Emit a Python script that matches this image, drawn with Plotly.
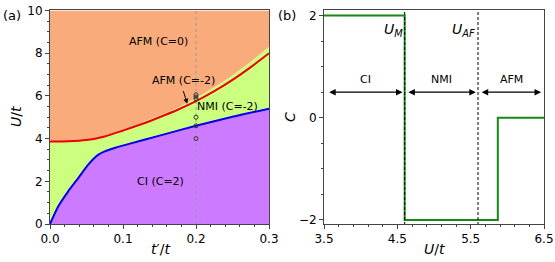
import plotly.graph_objects as go

# ---- data ----
tp_blue = [0.0, 0.011, 0.0247, 0.0384, 0.052, 0.0658, 0.075, 0.0886, 0.107, 0.15, 0.2, 0.25, 0.3]
U_blue = [0.0, 0.81, 1.52, 2.14, 2.77, 3.24, 3.40, 3.56, 3.74, 4.14, 4.6, 5.02, 5.4]
tp_red = [0.0, 0.025, 0.05, 0.075, 0.1, 0.125, 0.15, 0.175, 0.2, 0.225, 0.25, 0.275, 0.3]
U_red = [3.86, 3.87, 3.93, 4.1, 4.38, 4.67, 5.0, 5.35, 5.75, 6.22, 6.75, 7.35, 8.0]
U_green_top = [3.86, 3.87, 3.94, 4.12, 4.43, 4.74, 5.08, 5.45, 5.9, 6.4, 6.97, 7.6, 8.3]
tp_pts = [0.2, 0.2, 0.2, 0.2, 0.2, 0.2]
U_pts = [4.0, 4.6, 5.0, 5.85, 5.95, 6.05]

U_step = [3.5, 4.6, 5.87, 6.5]
C_step = [2, -2, 0, 0]
U_M = 4.6
U_AF = 5.6

ORANGE = "#FAAB7C"
GREEN = "#CCFF80"
PURPLE = "#CC7AFF"

fig = go.Figure()

# fills panel (a)
fig.add_trace(go.Scatter(x=tp_blue, y=U_blue, mode="lines", line=dict(width=0),
                         line_shape="spline", line_smoothing=0.6,
                         fill="tozeroy", fillcolor=PURPLE, xaxis="x", yaxis="y", showlegend=False))
fig.add_trace(go.Scatter(x=tp_red, y=U_green_top, mode="lines", line=dict(width=0),
                         line_shape="spline", line_smoothing=0.6,
                         fill="tonexty", fillcolor=GREEN, xaxis="x", yaxis="y", showlegend=False))
fig.add_trace(go.Scatter(x=[0, 0.3], y=[10, 10], mode="lines", line=dict(width=0),
                         fill="tonexty", fillcolor=ORANGE, xaxis="x", yaxis="y", showlegend=False))
# dotted line
fig.add_trace(go.Scatter(x=[0.2, 0.2], y=[0, 10], mode="lines",
                         line=dict(color="#999999", width=1, dash="dot"),
                         xaxis="x", yaxis="y", showlegend=False))
fig.add_trace(go.Scatter(x=tp_red, y=U_red, mode="lines", line=dict(color="#EE0000", width=2),
                         line_shape="spline", line_smoothing=0.6,
                         xaxis="x", yaxis="y", showlegend=False))
fig.add_trace(go.Scatter(x=tp_blue, y=U_blue, mode="lines", line=dict(color="#0000EE", width=2),
                         line_shape="spline", line_smoothing=0.6,
                         xaxis="x", yaxis="y", showlegend=False))
fig.add_trace(go.Scatter(x=tp_pts, y=U_pts, mode="markers",
                         marker=dict(symbol="circle-open", size=4, color="#333333", line=dict(width=1)),
                         xaxis="x", yaxis="y", showlegend=False))

# panel (b)
fig.add_trace(go.Scatter(x=U_step, y=C_step, mode="lines", line=dict(color="#138A13", width=2),
                         line_shape="hv", xaxis="x2", yaxis="y2", showlegend=False))
for xv in [U_M, U_AF]:
    fig.add_trace(go.Scatter(x=[xv, xv], y=[-2.1, 2.12], mode="lines",
                             line=dict(color="black", width=1, dash="3px,2px"),
                             xaxis="x2", yaxis="y2", showlegend=False))

axis_common = dict(showline=True, mirror=True, linecolor="#444444", linewidth=1,
                   ticks="outside", ticklen=4, tickcolor="#444444", showgrid=False,
                   zeroline=False, automargin=False, tickfont=dict(size=12, color="black"))

fig.update_layout(
    template="none",
    width=555, height=262,
    margin=dict(l=0, r=0, t=0, b=0),
    paper_bgcolor="white", plot_bgcolor="white",
    font=dict(family="DejaVu Sans", color="black"),
    hovermode=False,
    xaxis=dict(domain=[0.0901, 0.4847], range=[0, 0.3], tickvals=[0, 0.1, 0.2, 0.3],
               ticktext=["0.0", "0.1", "0.2", "0.3"],
               minor=dict(dtick=0.02, ticks="outside", ticklen=2, tickcolor="#444444"),
               anchor="y", **axis_common),
    yaxis=dict(domain=[0.145, 0.96], range=[0, 10], tickvals=[0, 2, 4, 6, 8, 10],
               minor=dict(dtick=0.5, ticks="outside", ticklen=2, tickcolor="#444444"),
               anchor="x", **axis_common),
    xaxis2=dict(domain=[0.5838, 0.9802], range=[3.5, 6.5], tickvals=[3.5, 4.5, 5.5, 6.5],
                ticktext=["3.5", "4.5", "5.5", "6.5"],
                minor=dict(dtick=0.2, tick0=3.5, ticks="outside", ticklen=2, tickcolor="#444444"),
                anchor="y2", **axis_common),
    yaxis2=dict(domain=[0.145, 0.96], range=[-2.08, 2.1], tickvals=[-2, 0, 2],
                ticktext=["\u22122", "0", "2"],
                minor=dict(dtick=0.5, tick0=0, ticks="outside", ticklen=2, tickcolor="#444444"),
                anchor="x2", **axis_common),
)

C = dict(xanchor="center", yanchor="middle", showarrow=False)
ann = [
    dict(text="(a)", x=1 / 555, y=1 - 15 / 262, xref="paper", yref="paper", xanchor="left",
         yanchor="middle", showarrow=False, font=dict(size=13)),
    dict(text="(b)", x=276 / 555, y=1 - 15 / 262, xref="paper", yref="paper", xanchor="left",
         yanchor="middle", showarrow=False, font=dict(size=13)),
    dict(text="<i>U</i>/<i>t</i>", x=16 / 555, y=1 - 117 / 262, xref="paper", yref="paper",
         textangle=-90, font=dict(size=14), **C),
    dict(text="<i>t</i>\u2032/<i>t</i>", x=160 / 555, y=1 - 249 / 262, xref="paper", yref="paper",
         font=dict(size=14), **C),
    dict(text="<i>C</i>", x=290 / 555, y=1 - 117 / 262, xref="paper", yref="paper",
         textangle=-90, font=dict(size=14), **C),
    dict(text="<i>U</i>/<i>t</i>", x=434 / 555, y=1 - 249 / 262, xref="paper", yref="paper",
         font=dict(size=14), **C),
]
# panel (a) region labels
lab = dict(xref="x", yref="y", font=dict(size=11), **C)
ann += [
    dict(text="AFM (C=0)", x=0.148, y=8.55, **lab),
    dict(text="AFM (C=-2)", x=0.183, y=6.7, **lab),
    dict(text="NMI (C=-2)", x=0.243, y=5.5, **lab),
    dict(text="CI (C=2)", x=0.151, y=2.0, **lab),
    dict(text="", x=0.188, y=5.63, ax=0.182, ay=6.3, xref="x", yref="y", axref="x", ayref="y",
         showarrow=True, arrowhead=2, arrowsize=1, arrowwidth=1, arrowcolor="black"),
]
# panel (b)
labb = dict(xref="x2", yref="y2", font=dict(size=11), **C)
ann += [
    dict(text="<i>U<sub>M</sub></i>", x=4.45, y=1.72, xref="x2", yref="y2", font=dict(size=14), **C),
    dict(text="<i>U<sub>AF</sub></i>", x=5.4, y=1.72, xref="x2", yref="y2", font=dict(size=14), **C),
    dict(text="CI", x=4.07, y=0.75, **labb),
    dict(text="NMI", x=5.1, y=0.75, **labb),
    dict(text="AFM", x=6.05, y=0.75, **labb),
]
for a, b in [(3.55, 4.57), (4.63, 5.57), (5.63, 6.46)]:
    ann.append(dict(text="", x=b, y=0.5, ax=a, ay=0.5, xref="x2", yref="y2", axref="x2", ayref="y2",
                    showarrow=True, arrowhead=2, startarrowhead=2, arrowside="end+start",
                    arrowsize=1, startarrowsize=1, arrowwidth=1.3, arrowcolor="black"))
fig.update_layout(annotations=ann)

fig.write_html("out.html", config={"displayModeBar": False},
               post_script="document.body.style.margin='0';document.body.style.overflow='hidden';")
